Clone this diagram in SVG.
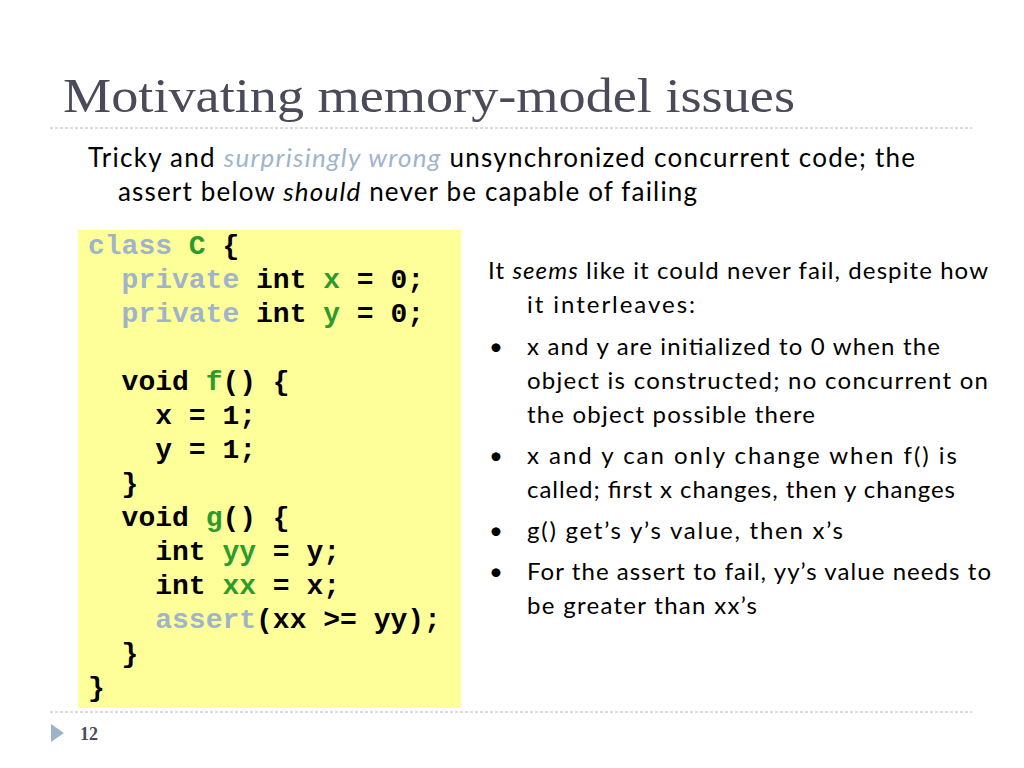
<svg xmlns="http://www.w3.org/2000/svg" width="1024" height="768" viewBox="0 0 1024 768">
<style>
.title{font-family:"Liberation Serif",serif;font-size:48px;fill:#4a4a58}
.sub{font-family:Lato,"Liberation Sans",sans-serif;font-size:26px;fill:#000}
.body{font-family:Lato,"Liberation Sans",sans-serif;font-size:24px;fill:#000}
.code{font-family:"Liberation Mono","Courier New",monospace;font-size:28px;font-weight:bold;fill:#000;white-space:pre}
.kw{fill:#9fb4c9}
.id{fill:#2e9a2e}
.hl{fill:#a0b4cc;font-style:italic}
.rule{stroke:#b8b8b8;stroke-width:1;stroke-dasharray:3 2;fill:none}
</style>
<rect width="1024" height="768" fill="#fff"/>
<text class="title" x="63" y="112" textLength="732" lengthAdjust="spacingAndGlyphs">Motivating memory-model issues</text>
<line class="rule" x1="50" y1="128" x2="972" y2="128"/>
<text class="sub" x="88" y="167" textLength="827">Tricky and <tspan class="hl">surprisingly wrong</tspan> unsynchronized concurrent code; the</text>
<text class="sub" x="118" y="201" textLength="579">assert below <tspan font-style="italic">should</tspan> never be capable of failing</text>
<g id="code">
<rect x="78" y="230" width="383" height="478" fill="#ffff99"/>
<text class="code" x="88" y="254"><tspan class="kw">class</tspan> <tspan class="id">C</tspan> {</text>
<text class="code" x="88" y="288">  <tspan class="kw">private</tspan> int <tspan class="id">x</tspan> = 0;</text>
<text class="code" x="88" y="322">  <tspan class="kw">private</tspan> int <tspan class="id">y</tspan> = 0;</text>
<text class="code" x="88" y="390">  void <tspan class="id">f</tspan>() {</text>
<text class="code" x="88" y="424">    x = 1;</text>
<text class="code" x="88" y="458">    y = 1;</text>
<text class="code" x="88" y="492">  }</text>
<text class="code" x="88" y="526">  void <tspan class="id">g</tspan>() {</text>
<text class="code" x="88" y="560">    int <tspan class="id">yy</tspan> = y;</text>
<text class="code" x="88" y="594">    int <tspan class="id">xx</tspan> = x;</text>
<text class="code" x="88" y="628">    <tspan class="kw">assert</tspan>(xx &gt;= yy);</text>
<text class="code" x="88" y="662">  }</text>
<text class="code" x="88" y="696">}</text>
</g>
<g id="notes">
<text class="body" x="488" y="279" textLength="500">It <tspan font-style="italic">seems</tspan> like it could never fail, despite how</text>
<text class="body" x="527" y="313" textLength="168">it interleaves:</text>
<text class="body" x="489" y="355">•</text>
<text class="body" x="527" y="355" textLength="413">x and y are initialized to 0 when the</text>
<text class="body" x="527" y="389" textLength="461">object is constructed; no concurrent on</text>
<text class="body" x="527" y="423" textLength="288">the object possible there</text>
<text class="body" x="489" y="464">•</text>
<text class="body" x="527" y="464" textLength="430">x and y can only change when f() is</text>
<text class="body" x="527" y="498" textLength="428">called; first x changes, then y changes</text>
<text class="body" x="489" y="539">•</text>
<text class="body" x="527" y="539" textLength="316">g() get’s y’s value, then x’s</text>
<text class="body" x="489" y="580">•</text>
<text class="body" x="527" y="580" textLength="464">For the assert to fail, yy’s value needs to</text>
<text class="body" x="527" y="614" textLength="230">be greater than xx’s</text>
</g>
<line class="rule" x1="50" y1="712" x2="972" y2="712"/>
<polygon points="51,724 64,733 51,742" fill="#9db3cb"/>
<text x="80" y="740" font-family="'Liberation Serif',serif" font-size="18" font-weight="bold" fill="#4a4a58">12</text>
</svg>
